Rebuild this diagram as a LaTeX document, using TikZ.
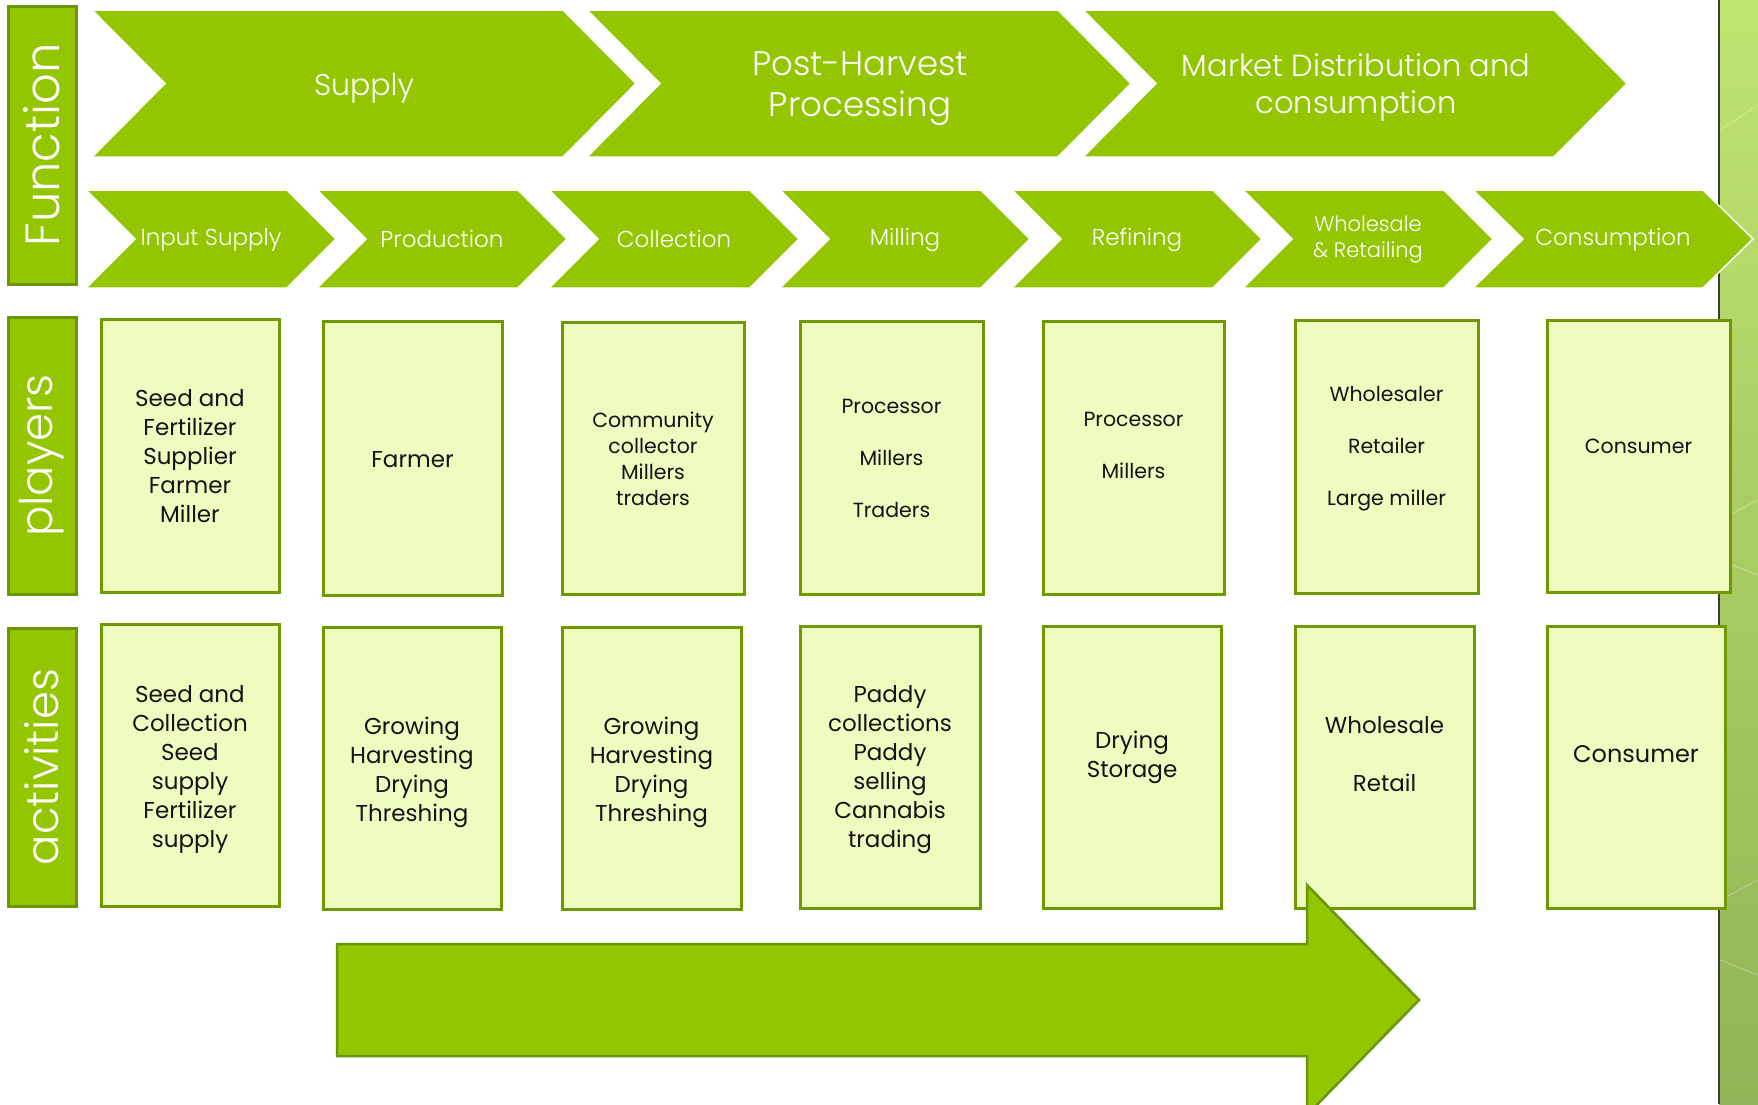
\documentclass[tikz,border=0pt]{standalone}
\usepackage{fontspec}
\setmainfont{Poppins Light}
\newfontfamily\boxfont{Poppins}
\definecolor{chevgreen}{RGB}{148,198,0}
\definecolor{labborder}{RGB}{107,150,10}
\definecolor{boxfill}{RGB}{238,252,192}
\definecolor{boxborder}{RGB}{112,152,0}
\definecolor{txtcol}{RGB}{20,20,20}
\definecolor{striptop}{RGB}{192,228,112}
\definecolor{stripbot}{RGB}{146,180,86}
\definecolor{stripline}{RGB}{55,60,50}
\newcommand\mychev[5]{%
  \draw[chev] (#1,#4) -- (#2,#4) -- ({#2+#3},{(#4+#5)/2}) -- (#2,#5) -- (#1,#5) -- ({#1+#3},{(#4+#5)/2}) -- cycle;}
\newcommand\mybox[6][box]{%
  \node[#1, minimum width={(#5-#3)*1pt}, minimum height={(#6-#4)*1pt}] (#2) at ({(#3+#5)/2},{(#4+#6)/2}) {};}
\begin{document}
\begin{tikzpicture}[x=1pt,y=-1pt,
  chev/.style={fill=chevgreen, draw=white, line width=1.5pt, line join=miter},
  chtxt/.style={text=white, align=center, inner sep=0pt},
  labbox/.style={fill=chevgreen, draw=labborder, line width=3pt, inner sep=0pt},
  labtxt/.style={text=white, rotate=90, inner sep=0pt, font=\fontsize{48}{48}\selectfont},
  box/.style={fill=boxfill, draw=boxborder, line width=3pt, inner sep=0pt},
  btxt/.style={text=txtcol, align=center, inner sep=0pt, font=\boxfont\fontsize{23}{29}\selectfont},
  stxt/.style={text=txtcol, align=center, inner sep=0pt, font=\boxfont\fontsize{20.5}{26}\selectfont},
  bigarrow/.style={fill=chevgreen, draw=labborder, line width=2.5pt, line join=miter}]
\useasboundingbox (0,0) rectangle (1758,1104);
\fill[white] (0,0) rectangle (1758,1104);
% right decorative strip
\shade[top color=striptop, bottom color=stripbot] (1719,0) rectangle (1758,1104);
\foreach \ya/\yb in {130/105, 520/500, 560/575, 900/880, 960/975, 1310/1290}
  \draw[white, opacity=0.35, line width=0.8pt] (1720,\ya) -- (1758,\yb);
\draw[stripline, line width=2.5pt] (1719,0) -- (1719,1104);
% top row chevrons
\mychev{92}{563}{73}{10}{157}
\mychev{587}{1058}{73}{10}{157}
\mychev{1083}{1554}{73}{10}{157}
\node[chtxt, font=\fontsize{30}{37}\selectfont] (fsupply) at (364,88) {Supply};
\node[chtxt, font=\fontsize{34}{41}\selectfont] (fpost) at (860,89) {Post-Harvest\\Processing};
\node[chtxt, font=\fontsize{30.5}{37}\selectfont] (fmarket) at (1356,87) {Market Distribution and\\consumption};
% second row chevrons
\mychev{86}{287}{49}{190}{288}
\mychev{317}{518}{49}{190}{288}
\mychev{549}{750}{49}{190}{288}
\mychev{780}{981}{49}{190}{288}
\mychev{1012}{1213}{49}{190}{288}
\mychev{1243}{1444}{49}{190}{288}
\mychev{1473}{1703}{50}{190}{288}
\begin{scope}[every node/.style={chtxt, font=\fontsize{23}{26}\selectfont}]
\node (s1) at (211,240) {Input Supply};
\node (s2) at (442,239) {Production};
\node (s3) at (674,239) {Collection};
\node (s4) at (905,240) {Milling};
\node (s5) at (1137,240) {Refining};
\node[font=\fontsize{21}{26}\selectfont] (s6) at (1368,240) {Wholesale\\\& Retailing};
\node (s7) at (1613,240) {Consumption};
\end{scope}
% row labels
\mybox[labbox]{lfun}{8}{6}{76}{284}
\mybox[labbox]{lpla}{8}{317}{76}{594}
\mybox[labbox]{lact}{8}{628}{76}{906}
\node[labtxt] (tfun) at (lfun.center) {Function};
\node[labtxt, font=\fontsize{45}{45}\selectfont] (tpla) at (lpla.center) {players};
\node[labtxt, font=\fontsize{45}{45}\selectfont] (tact) at (lact.center) {activities};
% players boxes
\mybox{p1}{101}{319}{279}{592}
\mybox{p2}{323}{321}{502}{595}
\mybox{p3}{562}{322}{744}{594}
\mybox{p4}{800}{321}{983}{594}
\mybox{p5}{1043}{321}{1224}{594}
\mybox{p6}{1295}{320}{1478}{593}
\mybox{p7}{1547}{320}{1730}{592}
\node[btxt] (p1t) at ([yshift=-1pt]p1.center) {Seed and\\Fertilizer\\Supplier\\Farmer\\Miller};
\node[btxt] (p2t) at ([yshift=-2pt]p2.center) {Farmer};
\node[stxt] (p3t) at ([yshift=-1pt]p3.center) {Community\\collector\\Millers\\traders};
\node[stxt] (p4t) at ([yshift=-1pt]p4.center) {Processor\\[26pt]Millers\\[26pt]Traders};
\node[stxt] (p5t) at ([yshift=12pt]p5.center) {Processor\\[26pt]Millers};
\node[stxt] (p6t) at ([yshift=8pt]p6.center) {Wholesaler\\[26pt]Retailer\\[26pt]Large miller};
\node[stxt] (p7t) at ([yshift=10pt]p7.center) {Consumer};
% activities boxes
\mybox{a1}{101}{624}{279}{906}
\mybox{a2}{323}{627}{501}{909}
\mybox{a3}{562}{627}{741}{909}
\mybox{a4}{800}{626}{980}{908}
\mybox{a5}{1043}{626}{1221}{908}
\mybox{a6}{1295}{626}{1474}{908}
\mybox{a7}{1547}{626}{1725}{908}
\node[btxt] (a1t) at ([yshift=-4pt]a1.center) {Seed and\\Collection\\Seed\\supply\\Fertilizer\\supply};
\node[btxt] (a2t) at ([yshift=-4pt]a2.center) {Growing\\Harvesting\\Drying\\Threshing};
\node[btxt] (a3t) at ([yshift=-4pt]a3.center) {Growing\\Harvesting\\Drying\\Threshing};
\node[btxt] (a4t) at ([yshift=-3pt]a4.center) {Paddy\\collections\\Paddy\\selling\\Cannabis\\trading};
\node[btxt] (a5t) at ([yshift=10pt]a5.center) {Drying\\Storage};
\node[btxt] (a6t) at ([yshift=13pt]a6.center) {Wholesale\\[29pt]Retail};
\node[btxt, font=\boxfont\fontsize{24}{29}\selectfont] (a7t) at ([yshift=13pt]a7.center) {Consumer};
% big flow arrow
\draw[bigarrow] (337,944) -- (1307,944) -- (1307,885) -- (1419,1000) -- (1307,1115) -- (1307,1056) -- (337,1056) -- cycle;
\end{tikzpicture}
\end{document}
